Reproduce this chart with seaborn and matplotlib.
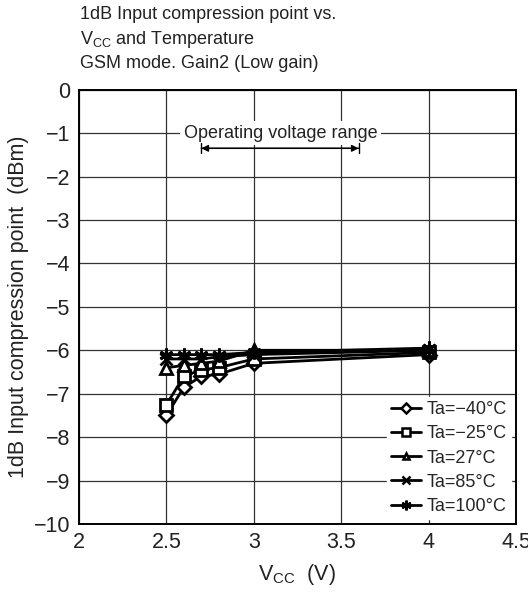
import matplotlib
matplotlib.use("Agg")
import matplotlib.pyplot as plt
import seaborn as sns
import pandas as pd
from matplotlib.lines import Line2D

# ---- data ----
vcc = [2.5, 2.6, 2.7, 2.8, 3.0, 4.0]
temps = ["Ta=\u221240\u00b0C", "Ta=\u221225\u00b0C", "Ta=27\u00b0C", "Ta=85\u00b0C", "Ta=100\u00b0C"]
p_m40 = [-7.50, -6.85, -6.60, -6.55, -6.30, -6.10]
p_m25 = [-7.25, -6.60, -6.45, -6.40, -6.20, -6.05]
p_27 = [-6.40, -6.35, -6.30, -6.25, -6.00, -6.00]
p_85 = [-6.20, -6.20, -6.20, -6.15, -6.10, -6.00]
p_100 = [-6.10, -6.10, -6.10, -6.10, -6.05, -5.95]
op_range = [2.7, 3.6]
xticks = [2, 2.5, 3, 3.5, 4, 4.5]
xticklabels = ["2", "2.5", "3", "3.5", "4", "4.5"]
yticks = list(range(-10, 1))

series = [p_m40, p_m25, p_27, p_85, p_100]
marker_list = ["D", "s", "^", "x", (6, 2, 0)]
marker_sizes = [7, 8, 8, 9, 10]
legend_sizes = [5, 6, 5, 6, 7]

sns.set_style("white")
plt.rcParams["font.family"] = ["Liberation Sans", "DejaVu Sans"]
plt.rcParams["mathtext.fontset"] = "custom"
plt.rcParams["mathtext.rm"] = "Liberation Sans"
plt.rcParams["mathtext.it"] = "Liberation Sans"
plt.rcParams["mathtext.default"] = "regular"

fig = plt.figure(figsize=(5.28, 5.99), dpi=100)
ax = fig.add_axes([79 / 528, 1 - 524 / 599, (516 - 79) / 528, (524 - 89.7) / 599])

for t, vals, m, ms in zip(temps, series, marker_list, marker_sizes):
    d = pd.DataFrame({"Vcc": vcc, "P": vals})
    sns.lineplot(data=d, x="Vcc", y="P", ax=ax, color="black", linewidth=2.0,
                 marker=m, markersize=ms, markerfacecolor="white",
                 markeredgecolor="black", markeredgewidth=2.0, zorder=5)

ax.set_xlim(2, 4.5)
ax.set_ylim(-10, 0)
ax.set_xticks(xticks)
ax.set_xticklabels(xticklabels)
ax.set_yticks(yticks)
ax.tick_params(axis="both", length=0, labelsize=15.5, pad=6, colors="#222222")
ax.grid(True, color="#333333", linewidth=0.9)
ax.set_axisbelow(True)
for s in ax.spines.values():
    s.set_color("black")
    s.set_linewidth(1.4)

ax.set_xlabel("V$_{CC}$  (V)", fontsize=15.5, labelpad=6, color="#222222")
ax.set_ylabel("1dB Input compression point  (dBm)", fontsize=15.5, labelpad=4, color="#222222")

# legend
handles = []
for m, ms in zip(marker_list, legend_sizes):
    handles.append(Line2D([], [], color="black", linewidth=2.0, marker=m, markersize=ms,
                          markerfacecolor="white", markeredgecolor="black", markeredgewidth=1.8))
leg = ax.legend(handles, temps, loc="lower right", fontsize=13, frameon=True,
                handlelength=1.7, handletextpad=0.3, labelspacing=0.4,
                borderpad=0.2, borderaxespad=0.3, fancybox=False)
leg.get_frame().set_edgecolor("white")
leg.get_frame().set_facecolor("white")
leg.get_frame().set_alpha(1)
leg.set_zorder(10)

# operating voltage range annotation
ax.text(3.154, -1, "Operating voltage range", ha="center", va="center",
        fontsize=13, color="#222222",
        bbox=dict(facecolor="white", edgecolor="none", pad=2.5), zorder=6)
ax.annotate("", xy=(op_range[0], -1.35), xytext=(op_range[1], -1.35),
            arrowprops=dict(arrowstyle="<|-|>", color="black", lw=1.0,
                            mutation_scale=10, shrinkA=0, shrinkB=0), zorder=7)
ax.annotate("", xy=(op_range[0], -1.35), xytext=(op_range[1], -1.35),
            arrowprops=dict(arrowstyle="|-|,widthA=0.35,widthB=0.35", color="black", lw=1.0,
                            shrinkA=0, shrinkB=0), zorder=7)

# title lines
fig.text(80 / 528, 1 - 19 / 599, "1dB Input compression point vs.", fontsize=13, va="baseline", ha="left", color="#222222")
fig.text(80 / 528, 1 - 44 / 599, "V$_{CC}$ and Temperature", fontsize=13, va="baseline", ha="left", color="#222222")
fig.text(80 / 528, 1 - 68 / 599, "GSM mode. Gain2 (Low gain)", fontsize=13, va="baseline", ha="left", color="#222222")

fig.savefig("out.png", dpi=100)
